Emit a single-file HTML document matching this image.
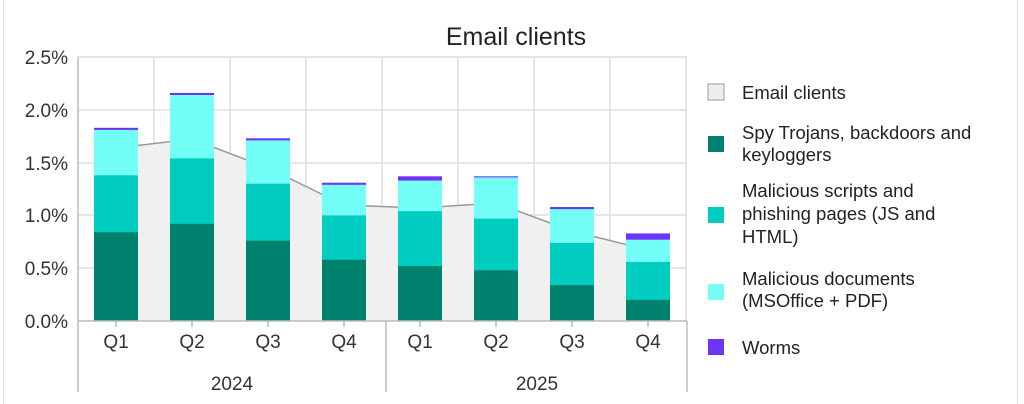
<!DOCTYPE html>
<html><head><meta charset="utf-8"><style>
body{margin:0;background:#fff;}
svg{display:block;font-family:"Liberation Sans",sans-serif;}
</style></head><body>
<svg width="1024" height="404" xmlns="http://www.w3.org/2000/svg">
<rect x="0" y="0" width="1024" height="404" fill="#fff"/>
<line x1="3.5" y1="0" x2="3.5" y2="404" stroke="#ddd"/>
<line x1="1017.5" y1="0" x2="1017.5" y2="404" stroke="#ddd"/>
<text x="516" y="45" font-size="25" text-anchor="middle" fill="#222">Email clients</text>
<g stroke="#ddd" stroke-width="1.5">
<line x1="78" y1="57" x2="687" y2="57"/>
<line x1="78" y1="110" x2="687" y2="110"/>
<line x1="78" y1="163" x2="687" y2="163"/>
<line x1="78" y1="215" x2="687" y2="215"/>
<line x1="78" y1="268" x2="687" y2="268"/>
<line x1="154" y1="57" x2="154" y2="321"/>
<line x1="230" y1="57" x2="230" y2="321"/>
<line x1="306" y1="57" x2="306" y2="321"/>
<line x1="382" y1="57" x2="382" y2="321"/>
<line x1="458" y1="57" x2="458" y2="321"/>
<line x1="534" y1="57" x2="534" y2="321"/>
<line x1="610" y1="57" x2="610" y2="321"/>
<line x1="686" y1="57" x2="686" y2="321"/>
</g>
<g font-size="19" fill="#333" text-anchor="end">
<text x="68" y="64">2.5%</text>
<text x="68" y="117">2.0%</text>
<text x="68" y="170">1.5%</text>
<text x="68" y="222">1.0%</text>
<text x="68" y="275">0.5%</text>
<text x="68" y="328">0.0%</text>
</g>
<path d="M116,321 L116,148 L192,139 L268,168 L344,205 L420,208 L496,203 L572,231 L648,250 L648,321 Z" fill="#f0f0f0"/>
<path d="M116,148 L192,139 L268,168 L344,205 L420,208 L496,203 L572,231 L648,250" fill="none" stroke="#999" stroke-width="1.5"/>
<g>
<rect x="94" y="127.8" width="44" height="193.2" fill="#6e34f8"/>
<rect x="94" y="129.9" width="44" height="191.1" fill="#73fff6"/>
<rect x="94" y="175.3" width="44" height="145.7" fill="#00ccc0"/>
<rect x="94" y="232.3" width="44" height="88.7" fill="#00816d"/>

<rect x="170" y="92.9" width="44" height="228.1" fill="#6e34f8"/>
<rect x="170" y="95" width="44" height="226" fill="#73fff6"/>
<rect x="170" y="158.4" width="44" height="162.6" fill="#00ccc0"/>
<rect x="170" y="223.8" width="44" height="97.2" fill="#00816d"/>

<rect x="246" y="138.3" width="44" height="182.7" fill="#6e34f8"/>
<rect x="246" y="140.4" width="44" height="180.6" fill="#73fff6"/>
<rect x="246" y="183.7" width="44" height="137.3" fill="#00ccc0"/>
<rect x="246" y="240.7" width="44" height="80.3" fill="#00816d"/>

<rect x="322" y="182.7" width="44" height="138.3" fill="#6e34f8"/>
<rect x="322" y="184.8" width="44" height="136.2" fill="#73fff6"/>
<rect x="322" y="215.4" width="44" height="105.6" fill="#00ccc0"/>
<rect x="322" y="259.8" width="44" height="61.2" fill="#00816d"/>

<rect x="398" y="176.3" width="44" height="144.7" fill="#6e34f8"/>
<rect x="398" y="180.6" width="44" height="140.4" fill="#73fff6"/>
<rect x="398" y="211.2" width="44" height="109.8" fill="#00ccc0"/>
<rect x="398" y="266.1" width="44" height="54.9" fill="#00816d"/>

<rect x="474" y="176.3" width="44" height="144.7" fill="#6e34f8"/>
<rect x="474" y="177.4" width="44" height="143.6" fill="#73fff6"/>
<rect x="474" y="218.6" width="44" height="102.4" fill="#00ccc0"/>
<rect x="474" y="270.3" width="44" height="50.7" fill="#00816d"/>

<rect x="550" y="207" width="44" height="114" fill="#6e34f8"/>
<rect x="550" y="209.1" width="44" height="111.9" fill="#73fff6"/>
<rect x="550" y="242.9" width="44" height="78.1" fill="#00ccc0"/>
<rect x="550" y="285.1" width="44" height="35.9" fill="#00816d"/>

<rect x="626" y="233.4" width="44" height="87.6" fill="#6e34f8"/>
<rect x="626" y="239.7" width="44" height="81.3" fill="#73fff6"/>
<rect x="626" y="261.9" width="44" height="59.1" fill="#00ccc0"/>
<rect x="626" y="299.9" width="44" height="21.1" fill="#00816d"/>
</g>
<line x1="78" y1="321" x2="687" y2="321" stroke="#bbb" stroke-width="1.5"/>
<g stroke="#bbb" stroke-width="1.5">
<line x1="78" y1="57" x2="78" y2="392"/>
<line x1="386" y1="321" x2="386" y2="392"/>
<line x1="687" y1="321" x2="687" y2="392"/>
<line x1="116" y1="321" x2="116" y2="327"/><line x1="192" y1="321" x2="192" y2="327"/>
<line x1="268" y1="321" x2="268" y2="327"/><line x1="344" y1="321" x2="344" y2="327"/>
<line x1="420" y1="321" x2="420" y2="327"/><line x1="496" y1="321" x2="496" y2="327"/>
<line x1="572" y1="321" x2="572" y2="327"/><line x1="648" y1="321" x2="648" y2="327"/>
</g>
<g font-size="19" fill="#333" text-anchor="middle">
<text x="116" y="348">Q1</text><text x="192" y="348">Q2</text><text x="268" y="348">Q3</text><text x="344" y="348">Q4</text>
<text x="420" y="348">Q1</text><text x="496" y="348">Q2</text><text x="572" y="348">Q3</text><text x="648" y="348">Q4</text>
<text x="232" y="390">2024</text><text x="537" y="390">2025</text>
</g>
<g font-size="18.5" fill="#222">
<rect x="708" y="84" width="16" height="16" fill="#eee" stroke="#999"/>
<text x="742" y="99">Email clients</text>
<rect x="708" y="136" width="16" height="16" fill="#00816d"/>
<text x="742" y="139">Spy Trojans, backdoors and</text>
<text x="742" y="161">keyloggers</text>
<rect x="708" y="207" width="16" height="16" fill="#00ccc0"/>
<text x="742" y="197">Malicious scripts and</text>
<text x="742" y="220">phishing pages (JS and</text>
<text x="742" y="243">HTML)</text>
<rect x="708" y="284" width="16" height="16" fill="#73fff6"/>
<text x="742" y="285">Malicious documents</text>
<text x="742" y="307">(MSOffice + PDF)</text>
<rect x="708" y="339" width="16" height="16" fill="#6e34f8"/>
<text x="742" y="354">Worms</text>
</g>
</svg>
</body></html>
